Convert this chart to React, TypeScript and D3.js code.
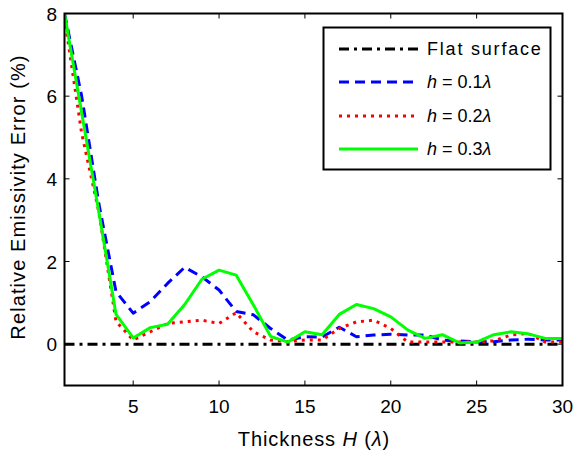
import React from "react";
import * as d3 from "d3";

const thickness = d3.range(1, 31);
const flat = thickness.map(() => 0);
const h01 = [8, 6.0, 3.4, 1.27, 0.75, 1.03, 1.47, 1.86, 1.63, 1.31, 0.79, 0.71, 0.38, 0.1, 0.18, 0.17, 0.41, 0.18, 0.22, 0.24, 0.22, 0.22, 0.1, 0.08, 0.06, 0.06, 0.1, 0.12, 0.1, 0.1];
const h02 = [7.9, 5.1, 3.2, 0.55, 0.1, 0.3, 0.5, 0.54, 0.58, 0.5, 0.76, 0.3, 0.1, 0.06, 0.1, 0.1, 0.38, 0.54, 0.58, 0.38, 0.05, 0.05, 0.05, 0.05, 0.05, 0.08, 0.22, 0.26, 0.05, 0.05];
const h03 = [8, 5.6, 3.2, 0.72, 0.15, 0.4, 0.48, 0.96, 1.57, 1.79, 1.67, 0.95, 0.19, 0.05, 0.3, 0.23, 0.72, 0.96, 0.86, 0.66, 0.34, 0.14, 0.23, 0.03, 0.05, 0.23, 0.3, 0.25, 0.14, 0.14];
const xTicks = [5, 10, 15, 20, 25, 30];
const yTicks = [0, 2, 4, 6, 8];

const series = [
  { key: "flat", values: flat, color: "#000000", dash: "10,5,3,5", label: "Flat surface" },
  { key: "h01", values: h01, color: "#0000ff", dash: "10,6", label: "0.1" },
  { key: "h02", values: h02, color: "#ff0000", dash: "3,5", label: "0.2" },
  { key: "h03", values: h03, color: "#00ff00", dash: "", label: "0.3" },
];

export default function App() {
  const W = 573, H = 454;
  const left = 64.5, right = 562.5, top = 13.5, bottom = 385.5;
  const x = d3.scaleLinear().domain([1, 30]).range([left, right]);
  const y = d3.scaleLinear().domain([-1, 8]).range([bottom, top]);
  const line = d3.line<number>().x((_, i) => x(thickness[i])).y((v) => y(v));
  const font = "Liberation Sans, Arial, sans-serif";
  const legX = 323.5, legY = 27.5, legW = 227, legH = 142;
  const rowY = [49, 82, 116, 149];
  return (
    <div style={{ position: "absolute", left: 0, top: 0 }}>
      <svg width={W} height={H} style={{ display: "block", background: "#fff" }} fontFamily={font}>
        <defs>
          <clipPath id="plot">
            <rect x={left} y={top} width={right - left} height={bottom - top} />
          </clipPath>
        </defs>
        <g clipPath="url(#plot)">
          {series.map((s) => (
            <path key={s.key} d={line(s.values) || ""} fill="none" stroke={s.color} strokeWidth={3} strokeDasharray={s.dash} strokeLinejoin="round" />
          ))}
        </g>
        {xTicks.map((t) => (
          <g key={"x" + t}>
            <line x1={x(t)} x2={x(t)} y1={bottom} y2={bottom - 5} stroke="#000" strokeWidth={1} />
            <line x1={x(t)} x2={x(t)} y1={top} y2={top + 5} stroke="#000" strokeWidth={1} />
            <text x={x(t)} y={413} fontSize={19} textAnchor="middle" fill="#000">{t}</text>
          </g>
        ))}
        {yTicks.map((t) => (
          <g key={"y" + t}>
            <line x1={left} x2={left + 5} y1={y(t)} y2={y(t)} stroke="#000" strokeWidth={1} />
            <line x1={right} x2={right - 5} y1={y(t)} y2={y(t)} stroke="#000" strokeWidth={1} />
            <text x={57} y={y(t) + 7} fontSize={19} textAnchor="end" fill="#000">{t}</text>
          </g>
        ))}
        <rect x={left} y={top} width={right - left} height={bottom - top} fill="none" stroke="#000" strokeWidth={2} />
        <text x={314} y={446} fontSize={20} textAnchor="middle" fill="#000" letterSpacing={0.9}>
          Thickness <tspan fontStyle="italic">H</tspan> (<tspan fontStyle="italic">λ</tspan>)
        </text>
        <text transform={`translate(25,197) rotate(-90)`} fontSize={20} textAnchor="middle" fill="#000" letterSpacing={1.1}>
          Relative Emissivity Error (%)
        </text>
        <rect x={legX} y={legY} width={legW} height={legH} fill="#fff" stroke="#000" strokeWidth={2} />
        {series.map((s, i) => (
          <g key={"l" + s.key}>
            <line x1={339} x2={418} y1={rowY[i]} y2={rowY[i]} stroke={s.color} strokeWidth={3} strokeDasharray={s.dash} />
            {i === 0 ? (
              <text x={427} y={rowY[i] + 6} fontSize={18} fill="#000" letterSpacing={1.8}>{s.label}</text>
            ) : (
              <text x={427} y={rowY[i] + 6} fontSize={18} fill="#000">
                <tspan fontStyle="italic">h</tspan> = {s.label}<tspan fontStyle="italic">λ</tspan>
              </text>
            )}
          </g>
        ))}
      </svg>
    </div>
  );
}
